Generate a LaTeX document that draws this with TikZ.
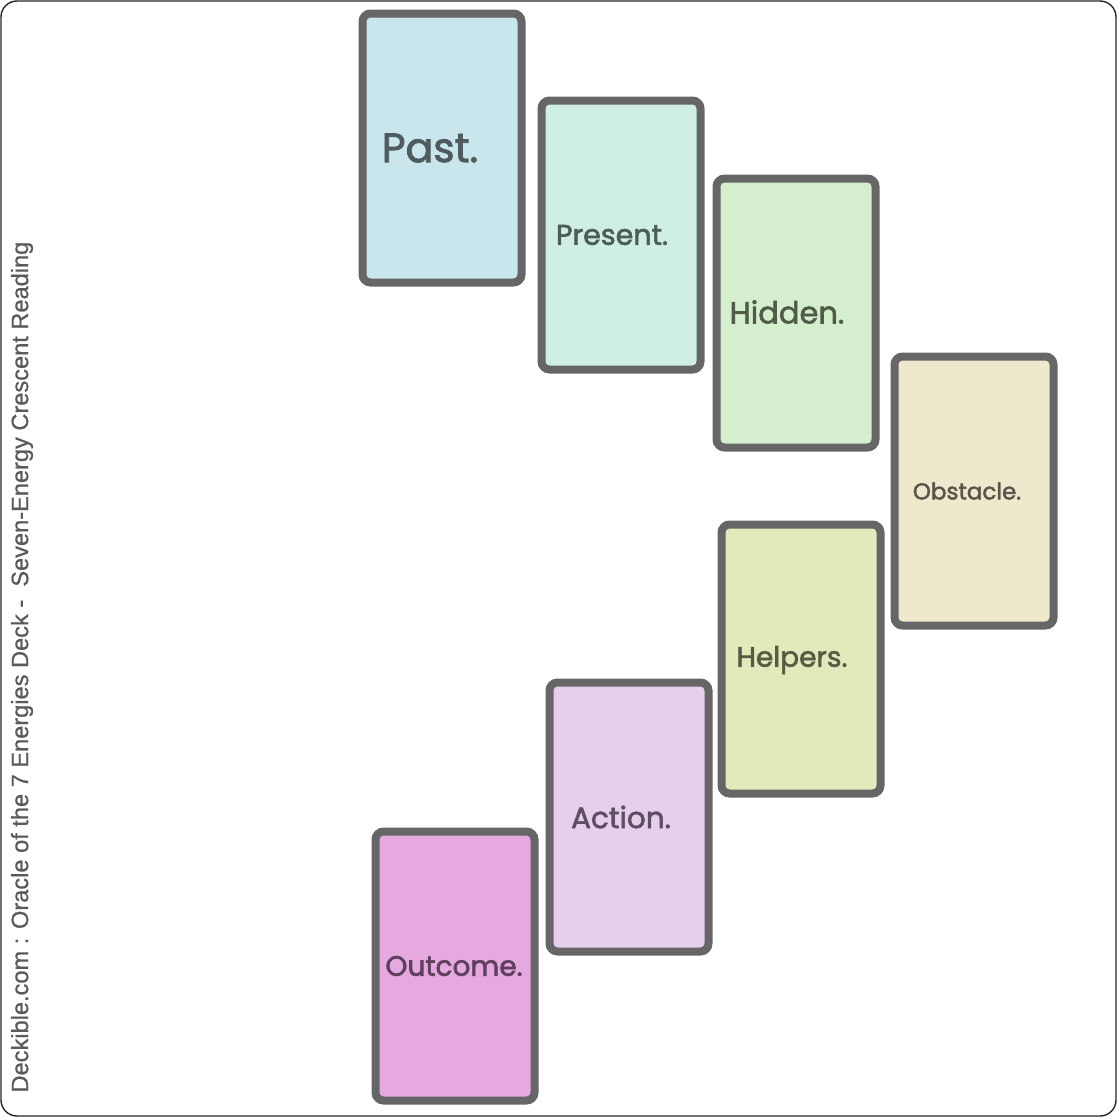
\documentclass[tikz,border=0pt]{standalone}
\usepackage{fontspec}
\setmainfont{Poppins}[AutoFakeBold=2]
\newfontfamily\sidefont{Liberation Sans}[FakeBold=0.8]
\definecolor{cardline}{HTML}{666666}
\definecolor{fpast}{HTML}{C8E6EB}
\definecolor{fpresent}{HTML}{D0EFE3}
\definecolor{fhidden}{HTML}{D5EFCE}
\definecolor{fobstacle}{HTML}{EEE9CD}
\definecolor{fhelpers}{HTML}{E1EABB}
\definecolor{faction}{HTML}{E6CFED}
\definecolor{foutcome}{HTML}{E5A9E0}
\definecolor{tpast}{HTML}{4F5B5E}
\definecolor{tpresent}{HTML}{4A5E55}
\definecolor{thidden}{HTML}{4E5C48}
\definecolor{tobstacle}{HTML}{58554A}
\definecolor{thelpers}{HTML}{555B45}
\definecolor{taction}{HTML}{5E4E63}
\definecolor{toutcome}{HTML}{5E3F5C}
\definecolor{sidegray}{HTML}{5A5A5A}
\tikzset{
  card/.style={draw=cardline, line width=8pt, rounded corners=8pt, minimum width=159pt, minimum height=269pt, inner sep=0pt},
  lbl/.style={inner sep=0pt, anchor=center}
}
\begin{document}
\begin{tikzpicture}[x=1pt,y=-1pt]
\useasboundingbox (0,0) rectangle (1120,1120);
\draw[line width=1.4pt, rounded corners=16pt, draw=black!85] (1,1) rectangle (1116,1116);
% cards
\node[card, fill=fpast] (past) at (442,148) {};
\node[card, fill=fpresent] (present) at (621,235) {};
\node[card, fill=fhidden] (hidden) at (796,313) {};
\node[card, fill=fobstacle] (obstacle) at (974,491) {};
\node[card, fill=fhelpers] (helpers) at (801,659) {};
\node[card, fill=faction] (action) at (629,817) {};
\node[card, fill=foutcome] (outcome) at (455,966) {};
% labels
\node[lbl, text=tpast, font=\fontsize{41}{41}\selectfont\bfseries] (tpastl) at (430,148) {Past.};
\node[lbl, text=tpresent, font=\fontsize{28.5}{28.5}\selectfont\bfseries] (tpresentl) at (612,235) {Present.};
\node[lbl, text=thidden, font=\fontsize{30.5}{30.5}\selectfont\bfseries] (thiddenl) at (787,312) {Hidden.};
\node[lbl, text=tobstacle, font=\fontsize{23}{23}\selectfont\bfseries] (tobstaclel) at (967,491) {Obstacle.};
\node[lbl, text=thelpers, font=\fontsize{28}{28}\selectfont\bfseries] (thelpersl) at (792,660) {Helpers.};
\node[lbl, text=taction, font=\fontsize{29.5}{29.5}\selectfont\bfseries] (tactionl) at (621,817) {Action.};
\node[lbl, text=toutcome, font=\fontsize{28}{28}\selectfont\bfseries] (toutcomel) at (454,966) {Outcome.};
% side title
\node[lbl, rotate=90, text=sidegray, font=\sidefont\fontsize{23.6}{23.6}\selectfont] (side) at (22,667) {Deckible.com : Oracle of the 7 Energies Deck -\ \ Seven-Energy Crescent Reading};
\end{tikzpicture}
\end{document}
